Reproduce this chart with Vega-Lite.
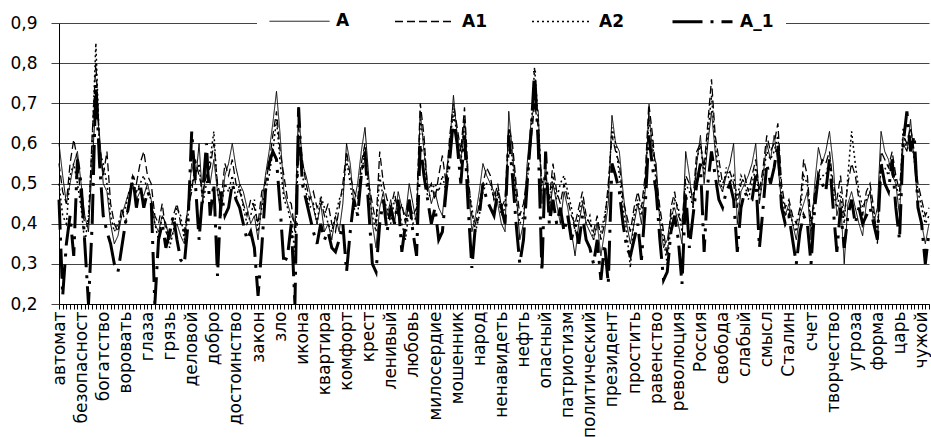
{"$schema":"https://vega.github.io/schema/vega-lite/v6.json","width":870,"height":281,"autosize":{"type":"none"},"padding":{"left":59,"top":23,"right":2,"bottom":133},"background":"white","config":{"view":{"stroke":null}},
"data":{"values":[
{"i":0,"A":0.60,"A1":0.55,"A2":0.50,"A_1":0.46},{"i":1,"A":0.52,"A1":0.48,"A2":0.42,"A_1":0.22},{"i":2,"A":0.45,"A1":0.45,"A2":0.40,"A_1":0.35},{"i":3,"A":0.50,"A1":0.55,"A2":0.52,"A_1":0.42},{"i":4,"A":0.55,"A1":0.61,"A2":0.55,"A_1":0.32},{"i":5,"A":0.58,"A1":0.56,"A2":0.50,"A_1":0.56},{"i":6,"A":0.50,"A1":0.45,"A2":0.44,"A_1":0.50},{"i":7,"A":0.42,"A1":0.40,"A2":0.35,"A_1":0.35},{"i":8,"A":0.38,"A1":0.40,"A2":0.42,"A_1":0.20},{"i":9,"A":0.55,"A1":0.62,"A2":0.60,"A_1":0.40},
{"i":10,"A":0.70,"A1":0.80,"A2":0.85,"A_1":0.75},{"i":11,"A":0.62,"A1":0.60,"A2":0.58,"A_1":0.55},{"i":12,"A":0.50,"A1":0.52,"A2":0.55,"A_1":0.42},{"i":13,"A":0.48,"A1":0.58,"A2":0.50,"A_1":0.38},{"i":14,"A":0.40,"A1":0.45,"A2":0.42,"A_1":0.35},{"i":15,"A":0.35,"A1":0.40,"A2":0.38,"A_1":0.30},{"i":16,"A":0.37,"A1":0.38,"A2":0.40,"A_1":0.28},{"i":17,"A":0.42,"A1":0.44,"A2":0.42,"A_1":0.34},{"i":18,"A":0.45,"A1":0.40,"A2":0.44,"A_1":0.40},{"i":19,"A":0.48,"A1":0.45,"A2":0.48,"A_1":0.45},
{"i":20,"A":0.50,"A1":0.52,"A2":0.50,"A_1":0.52},{"i":21,"A":0.46,"A1":0.50,"A2":0.48,"A_1":0.44},{"i":22,"A":0.48,"A1":0.55,"A2":0.50,"A_1":0.50},{"i":23,"A":0.47,"A1":0.58,"A2":0.52,"A_1":0.44},{"i":24,"A":0.50,"A1":0.52,"A2":0.48,"A_1":0.48},{"i":25,"A":0.46,"A1":0.50,"A2":0.46,"A_1":0.46},{"i":26,"A":0.40,"A1":0.42,"A2":0.40,"A_1":0.20},{"i":27,"A":0.38,"A1":0.40,"A2":0.36,"A_1":0.36},{"i":28,"A":0.42,"A1":0.45,"A2":0.42,"A_1":0.40},{"i":29,"A":0.40,"A1":0.38,"A2":0.40,"A_1":0.34},
{"i":30,"A":0.36,"A1":0.36,"A2":0.34,"A_1":0.38},{"i":31,"A":0.38,"A1":0.42,"A2":0.38,"A_1":0.42},{"i":32,"A":0.40,"A1":0.45,"A2":0.44,"A_1":0.36},{"i":33,"A":0.37,"A1":0.40,"A2":0.42,"A_1":0.31},{"i":34,"A":0.35,"A1":0.38,"A2":0.36,"A_1":0.30},{"i":35,"A":0.45,"A1":0.44,"A2":0.42,"A_1":0.40},{"i":36,"A":0.55,"A1":0.48,"A2":0.50,"A_1":0.63},{"i":37,"A":0.50,"A1":0.56,"A2":0.52,"A_1":0.50},{"i":38,"A":0.60,"A1":0.52,"A2":0.55,"A_1":0.36},{"i":39,"A":0.45,"A1":0.48,"A2":0.45,"A_1":0.48},
{"i":40,"A":0.55,"A1":0.52,"A2":0.50,"A_1":0.60},{"i":41,"A":0.50,"A1":0.54,"A2":0.56,"A_1":0.42},{"i":42,"A":0.56,"A1":0.60,"A2":0.63,"A_1":0.50},{"i":43,"A":0.48,"A1":0.50,"A2":0.48,"A_1":0.27},{"i":44,"A":0.42,"A1":0.46,"A2":0.44,"A_1":0.48},{"i":45,"A":0.52,"A1":0.55,"A2":0.50,"A_1":0.42},{"i":46,"A":0.55,"A1":0.52,"A2":0.48,"A_1":0.44},{"i":47,"A":0.60,"A1":0.56,"A2":0.52,"A_1":0.50},{"i":48,"A":0.54,"A1":0.50,"A2":0.46,"A_1":0.46},{"i":49,"A":0.50,"A1":0.48,"A2":0.50,"A_1":0.44},
{"i":50,"A":0.48,"A1":0.45,"A2":0.44,"A_1":0.40},{"i":51,"A":0.44,"A1":0.42,"A2":0.40,"A_1":0.36},{"i":52,"A":0.40,"A1":0.46,"A2":0.42,"A_1":0.38},{"i":53,"A":0.42,"A1":0.44,"A2":0.46,"A_1":0.34},{"i":54,"A":0.36,"A1":0.40,"A2":0.38,"A_1":0.22},{"i":55,"A":0.45,"A1":0.48,"A2":0.44,"A_1":0.34},{"i":56,"A":0.52,"A1":0.50,"A2":0.48,"A_1":0.48},{"i":57,"A":0.58,"A1":0.55,"A2":0.52,"A_1":0.55},{"i":58,"A":0.65,"A1":0.62,"A2":0.58,"A_1":0.58},{"i":59,"A":0.73,"A1":0.68,"A2":0.66,"A_1":0.56},
{"i":60,"A":0.62,"A1":0.58,"A2":0.55,"A_1":0.44},{"i":61,"A":0.48,"A1":0.52,"A2":0.46,"A_1":0.30},{"i":62,"A":0.45,"A1":0.46,"A2":0.44,"A_1":0.32},{"i":63,"A":0.42,"A1":0.45,"A2":0.40,"A_1":0.40},{"i":64,"A":0.40,"A1":0.38,"A2":0.33,"A_1":0.20},{"i":65,"A":0.69,"A1":0.64,"A2":0.60,"A_1":0.69},{"i":66,"A":0.55,"A1":0.56,"A2":0.52,"A_1":0.50},{"i":67,"A":0.52,"A1":0.50,"A2":0.48,"A_1":0.46},{"i":68,"A":0.48,"A1":0.46,"A2":0.44,"A_1":0.42},{"i":69,"A":0.44,"A1":0.48,"A2":0.45,"A_1":0.38},
{"i":70,"A":0.40,"A1":0.44,"A2":0.40,"A_1":0.35},{"i":71,"A":0.45,"A1":0.46,"A2":0.47,"A_1":0.40},{"i":72,"A":0.38,"A1":0.42,"A2":0.44,"A_1":0.36},{"i":73,"A":0.40,"A1":0.45,"A2":0.40,"A_1":0.38},{"i":74,"A":0.36,"A1":0.40,"A2":0.38,"A_1":0.34},{"i":75,"A":0.42,"A1":0.38,"A2":0.42,"A_1":0.33},{"i":76,"A":0.38,"A1":0.44,"A2":0.46,"A_1":0.36},{"i":77,"A":0.45,"A1":0.50,"A2":0.48,"A_1":0.40},{"i":78,"A":0.60,"A1":0.58,"A2":0.56,"A_1":0.28},{"i":79,"A":0.55,"A1":0.52,"A2":0.50,"A_1":0.38},
{"i":80,"A":0.45,"A1":0.48,"A2":0.44,"A_1":0.46},{"i":81,"A":0.50,"A1":0.46,"A2":0.42,"A_1":0.42},{"i":82,"A":0.58,"A1":0.55,"A2":0.52,"A_1":0.52},{"i":83,"A":0.64,"A1":0.60,"A2":0.58,"A_1":0.58},{"i":84,"A":0.52,"A1":0.50,"A2":0.48,"A_1":0.44},{"i":85,"A":0.40,"A1":0.45,"A2":0.42,"A_1":0.30},{"i":86,"A":0.34,"A1":0.40,"A2":0.38,"A_1":0.28},{"i":87,"A":0.44,"A1":0.58,"A2":0.52,"A_1":0.40},{"i":88,"A":0.48,"A1":0.50,"A2":0.46,"A_1":0.46},{"i":89,"A":0.42,"A1":0.46,"A2":0.44,"A_1":0.38},
{"i":90,"A":0.46,"A1":0.44,"A2":0.40,"A_1":0.44},{"i":91,"A":0.40,"A1":0.48,"A2":0.46,"A_1":0.40},{"i":92,"A":0.48,"A1":0.42,"A2":0.44,"A_1":0.46},{"i":93,"A":0.44,"A1":0.45,"A2":0.40,"A_1":0.33},{"i":94,"A":0.42,"A1":0.40,"A2":0.36,"A_1":0.40},{"i":95,"A":0.50,"A1":0.46,"A2":0.44,"A_1":0.46},{"i":96,"A":0.45,"A1":0.42,"A2":0.40,"A_1":0.38},{"i":97,"A":0.40,"A1":0.44,"A2":0.42,"A_1":0.32},{"i":98,"A":0.68,"A1":0.70,"A2":0.66,"A_1":0.60},{"i":99,"A":0.58,"A1":0.62,"A2":0.60,"A_1":0.52},
{"i":100,"A":0.50,"A1":0.48,"A2":0.46,"A_1":0.46},{"i":101,"A":0.45,"A1":0.50,"A2":0.48,"A_1":0.40},{"i":102,"A":0.48,"A1":0.46,"A2":0.50,"A_1":0.44},{"i":103,"A":0.44,"A1":0.52,"A2":0.48,"A_1":0.36},{"i":104,"A":0.42,"A1":0.57,"A2":0.52,"A_1":0.38},{"i":105,"A":0.52,"A1":0.50,"A2":0.48,"A_1":0.48},{"i":106,"A":0.60,"A1":0.62,"A2":0.60,"A_1":0.56},{"i":107,"A":0.72,"A1":0.70,"A2":0.68,"A_1":0.66},{"i":108,"A":0.62,"A1":0.64,"A2":0.62,"A_1":0.60},{"i":109,"A":0.55,"A1":0.58,"A2":0.55,"A_1":0.50},
{"i":110,"A":0.66,"A1":0.69,"A2":0.66,"A_1":0.62},{"i":111,"A":0.50,"A1":0.52,"A2":0.50,"A_1":0.44},{"i":112,"A":0.38,"A1":0.42,"A2":0.44,"A_1":0.29},{"i":113,"A":0.42,"A1":0.40,"A2":0.38,"A_1":0.40},{"i":114,"A":0.48,"A1":0.45,"A2":0.42,"A_1":0.42},{"i":115,"A":0.55,"A1":0.50,"A2":0.48,"A_1":0.50},{"i":116,"A":0.52,"A1":0.54,"A2":0.50,"A_1":0.46},{"i":117,"A":0.50,"A1":0.52,"A2":0.50,"A_1":0.44},{"i":118,"A":0.48,"A1":0.46,"A2":0.46,"A_1":0.42},{"i":119,"A":0.45,"A1":0.50,"A2":0.48,"A_1":0.48},
{"i":120,"A":0.40,"A1":0.44,"A2":0.42,"A_1":0.44},{"i":121,"A":0.38,"A1":0.46,"A2":0.44,"A_1":0.40},{"i":122,"A":0.68,"A1":0.64,"A2":0.62,"A_1":0.62},{"i":123,"A":0.58,"A1":0.60,"A2":0.56,"A_1":0.52},{"i":124,"A":0.48,"A1":0.50,"A2":0.46,"A_1":0.40},{"i":125,"A":0.36,"A1":0.42,"A2":0.40,"A_1":0.30},{"i":126,"A":0.40,"A1":0.45,"A2":0.42,"A_1":0.36},{"i":127,"A":0.55,"A1":0.52,"A2":0.50,"A_1":0.50},{"i":128,"A":0.65,"A1":0.60,"A2":0.62,"A_1":0.62},{"i":129,"A":0.70,"A1":0.70,"A2":0.79,"A_1":0.78},
{"i":130,"A":0.68,"A1":0.64,"A2":0.66,"A_1":0.60},{"i":131,"A":0.45,"A1":0.50,"A2":0.48,"A_1":0.28},{"i":132,"A":0.55,"A1":0.52,"A2":0.50,"A_1":0.58},{"i":133,"A":0.42,"A1":0.46,"A2":0.44,"A_1":0.40},{"i":134,"A":0.50,"A1":0.55,"A2":0.52,"A_1":0.46},{"i":135,"A":0.45,"A1":0.48,"A2":0.46,"A_1":0.40},{"i":136,"A":0.40,"A1":0.45,"A2":0.50,"A_1":0.44},{"i":137,"A":0.48,"A1":0.50,"A2":0.52,"A_1":0.38},{"i":138,"A":0.44,"A1":0.46,"A2":0.48,"A_1":0.42},{"i":139,"A":0.38,"A1":0.42,"A2":0.44,"A_1":0.36},
{"i":140,"A":0.32,"A1":0.40,"A2":0.38,"A_1":0.40},{"i":141,"A":0.40,"A1":0.44,"A2":0.42,"A_1":0.35},{"i":142,"A":0.45,"A1":0.48,"A2":0.46,"A_1":0.42},{"i":143,"A":0.40,"A1":0.42,"A2":0.40,"A_1":0.36},{"i":144,"A":0.38,"A1":0.40,"A2":0.42,"A_1":0.34},{"i":145,"A":0.36,"A1":0.38,"A2":0.36,"A_1":0.30},{"i":146,"A":0.40,"A1":0.42,"A2":0.40,"A_1":0.36},{"i":147,"A":0.32,"A1":0.36,"A2":0.38,"A_1":0.26},{"i":148,"A":0.38,"A1":0.40,"A2":0.42,"A_1":0.35},{"i":149,"A":0.45,"A1":0.50,"A2":0.48,"A_1":0.25},
{"i":150,"A":0.67,"A1":0.62,"A2":0.64,"A_1":0.55},{"i":151,"A":0.60,"A1":0.58,"A2":0.60,"A_1":0.52},{"i":152,"A":0.58,"A1":0.55,"A2":0.52,"A_1":0.48},{"i":153,"A":0.48,"A1":0.46,"A2":0.44,"A_1":0.40},{"i":154,"A":0.40,"A1":0.42,"A2":0.38,"A_1":0.34},{"i":155,"A":0.35,"A1":0.38,"A2":0.29,"A_1":0.32},{"i":156,"A":0.40,"A1":0.44,"A2":0.42,"A_1":0.36},{"i":157,"A":0.45,"A1":0.48,"A2":0.46,"A_1":0.40},{"i":158,"A":0.40,"A1":0.44,"A2":0.42,"A_1":0.31},{"i":159,"A":0.48,"A1":0.52,"A2":0.50,"A_1":0.44},
{"i":160,"A":0.68,"A1":0.70,"A2":0.66,"A_1":0.62},{"i":161,"A":0.58,"A1":0.62,"A2":0.60,"A_1":0.54},{"i":162,"A":0.55,"A1":0.52,"A2":0.50,"A_1":0.48},{"i":163,"A":0.40,"A1":0.44,"A2":0.42,"A_1":0.36},{"i":164,"A":0.34,"A1":0.38,"A2":0.36,"A_1":0.26},{"i":165,"A":0.36,"A1":0.32,"A2":0.30,"A_1":0.28},{"i":166,"A":0.42,"A1":0.44,"A2":0.40,"A_1":0.38},{"i":167,"A":0.44,"A1":0.48,"A2":0.46,"A_1":0.42},{"i":168,"A":0.40,"A1":0.42,"A2":0.44,"A_1":0.36},{"i":169,"A":0.35,"A1":0.40,"A2":0.38,"A_1":0.25},
{"i":170,"A":0.58,"A1":0.52,"A2":0.50,"A_1":0.48},{"i":171,"A":0.52,"A1":0.50,"A2":0.48,"A_1":0.34},{"i":172,"A":0.44,"A1":0.46,"A2":0.44,"A_1":0.42},{"i":173,"A":0.55,"A1":0.58,"A2":0.56,"A_1":0.50},{"i":174,"A":0.62,"A1":0.60,"A2":0.60,"A_1":0.55},{"i":175,"A":0.50,"A1":0.54,"A2":0.52,"A_1":0.33},{"i":176,"A":0.60,"A1":0.65,"A2":0.62,"A_1":0.50},{"i":177,"A":0.68,"A1":0.76,"A2":0.72,"A_1":0.58},{"i":178,"A":0.58,"A1":0.62,"A2":0.60,"A_1":0.52},{"i":179,"A":0.50,"A1":0.56,"A2":0.52,"A_1":0.46},
{"i":180,"A":0.48,"A1":0.50,"A2":0.48,"A_1":0.44},{"i":181,"A":0.52,"A1":0.52,"A2":0.54,"A_1":0.48},{"i":182,"A":0.55,"A1":0.53,"A2":0.50,"A_1":0.50},{"i":183,"A":0.60,"A1":0.50,"A2":0.52,"A_1":0.46},{"i":184,"A":0.40,"A1":0.44,"A2":0.46,"A_1":0.33},{"i":185,"A":0.48,"A1":0.50,"A2":0.52,"A_1":0.44},{"i":186,"A":0.50,"A1":0.52,"A2":0.50,"A_1":0.48},{"i":187,"A":0.52,"A1":0.48,"A2":0.46,"A_1":0.46},{"i":188,"A":0.55,"A1":0.52,"A2":0.50,"A_1":0.46},{"i":189,"A":0.60,"A1":0.56,"A2":0.54,"A_1":0.52},
{"i":190,"A":0.45,"A1":0.48,"A2":0.46,"A_1":0.34},{"i":191,"A":0.52,"A1":0.54,"A2":0.52,"A_1":0.44},{"i":192,"A":0.60,"A1":0.62,"A2":0.58,"A_1":0.55},{"i":193,"A":0.56,"A1":0.58,"A2":0.56,"A_1":0.50},{"i":194,"A":0.62,"A1":0.60,"A2":0.58,"A_1":0.54},{"i":195,"A":0.55,"A1":0.65,"A2":0.62,"A_1":0.60},{"i":196,"A":0.45,"A1":0.50,"A2":0.48,"A_1":0.44},{"i":197,"A":0.42,"A1":0.44,"A2":0.42,"A_1":0.40},{"i":198,"A":0.45,"A1":0.46,"A2":0.44,"A_1":0.42},{"i":199,"A":0.40,"A1":0.42,"A2":0.40,"A_1":0.36},
{"i":200,"A":0.36,"A1":0.40,"A2":0.38,"A_1":0.30},{"i":201,"A":0.42,"A1":0.44,"A2":0.42,"A_1":0.38},{"i":202,"A":0.45,"A1":0.56,"A2":0.52,"A_1":0.42},{"i":203,"A":0.48,"A1":0.52,"A2":0.50,"A_1":0.40},{"i":204,"A":0.36,"A1":0.40,"A2":0.38,"A_1":0.30},{"i":205,"A":0.50,"A1":0.48,"A2":0.46,"A_1":0.44},{"i":206,"A":0.59,"A1":0.52,"A2":0.50,"A_1":0.52},{"i":207,"A":0.55,"A1":0.56,"A2":0.52,"A_1":0.50},{"i":208,"A":0.58,"A1":0.55,"A2":0.52,"A_1":0.48},{"i":209,"A":0.63,"A1":0.58,"A2":0.56,"A_1":0.56},
{"i":210,"A":0.55,"A1":0.50,"A2":0.48,"A_1":0.44},{"i":211,"A":0.42,"A1":0.46,"A2":0.44,"A_1":0.33},{"i":212,"A":0.46,"A1":0.52,"A2":0.48,"A_1":0.44},{"i":213,"A":0.30,"A1":0.42,"A2":0.40,"A_1":0.34},{"i":214,"A":0.45,"A1":0.50,"A2":0.52,"A_1":0.42},{"i":215,"A":0.48,"A1":0.55,"A2":0.63,"A_1":0.46},{"i":216,"A":0.44,"A1":0.52,"A2":0.55,"A_1":0.40},{"i":217,"A":0.40,"A1":0.46,"A2":0.48,"A_1":0.44},{"i":218,"A":0.37,"A1":0.42,"A2":0.44,"A_1":0.40},{"i":219,"A":0.45,"A1":0.48,"A2":0.46,"A_1":0.42},
{"i":220,"A":0.48,"A1":0.50,"A2":0.48,"A_1":0.44},{"i":221,"A":0.40,"A1":0.44,"A2":0.42,"A_1":0.40},{"i":222,"A":0.44,"A1":0.35,"A2":0.38,"A_1":0.36},{"i":223,"A":0.63,"A1":0.58,"A2":0.55,"A_1":0.55},{"i":224,"A":0.58,"A1":0.56,"A2":0.54,"A_1":0.50},{"i":225,"A":0.56,"A1":0.54,"A2":0.52,"A_1":0.48},{"i":226,"A":0.52,"A1":0.58,"A2":0.56,"A_1":0.56},{"i":227,"A":0.50,"A1":0.52,"A2":0.50,"A_1":0.44},{"i":228,"A":0.42,"A1":0.48,"A2":0.46,"A_1":0.36},{"i":229,"A":0.60,"A1":0.62,"A2":0.64,"A_1":0.60},
{"i":230,"A":0.58,"A1":0.60,"A2":0.58,"A_1":0.68},{"i":231,"A":0.66,"A1":0.64,"A2":0.62,"A_1":0.58},{"i":232,"A":0.55,"A1":0.58,"A2":0.56,"A_1":0.62},{"i":233,"A":0.45,"A1":0.50,"A2":0.48,"A_1":0.44},{"i":234,"A":0.40,"A1":0.46,"A2":0.44,"A_1":0.40},{"i":235,"A":0.35,"A1":0.42,"A2":0.40,"A_1":0.30},{"i":236,"A":0.40,"A1":0.44,"A2":0.42,"A_1":0.38}
]},
"transform":[{"fold":["A","A1","A2","A_1"],"as":["series","value"]}],
"mark":{"type":"line","color":"black","strokeCap":"butt","clip":false},
"encoding":{
"x":{"field":"i","type":"ordinal","scale":{"type":"point","padding":0},"axis":{"title":null,"labelAngle":-90,"labelOverlap":false,"labelBound":false,"labelFont":"DejaVu Sans","labelFontSize":17,"labelColor":"black","labelPadding":2,"tickSize":5,"tickColor":"black","tickWidth":1,"domainColor":"black","domainWidth":1,"grid":false,
"labelExpr":"datum.value % 6 == 0 ? ['автомат','безопасност','богатство','воровать','глаза','грязь','деловой','добро','достоинство','закон','зло','икона','квартира','комфорт','крест','ленивый','любовь','милосердие','мошенник','народ','ненавидеть','нефть','опасный','патриотизм','политический','президент','простить','равенство','революция','Россия','свобода','слабый','смысл','Сталин','счет','творчество','угроза','форма','царь','чужой'][datum.value / 6] : ''"}},
"y":{"field":"value","type":"quantitative","scale":{"domain":[0.2,0.9],"zero":false,"nice":false},"axis":{"title":null,"values":[0.2,0.3,0.4,0.5,0.6,0.7,0.8,0.9],"labelExpr":"replace(format(datum.value,'.1f'),'.',',')","labelFont":"DejaVu Sans","labelFontSize":17,"labelColor":"black","labelPadding":14,"tickSize":8,"tickColor":"#444444","gridColor":"#444444","gridWidth":1,"domainColor":"black","grid":true}},
"strokeDash":{"field":"series","type":"nominal","scale":{"domain":["A","A1","A2","A_1"],"range":[[1,0],[8,4],[2,3],[30,8,3,8]]},"legend":{"orient":"none","legendX":198,"legendY":-45,"direction":"horizontal","title":null,"symbolType":"stroke","symbolSize":3600,"symbolStrokeColor":"black","labelFont":"DejaVu Sans","labelFontSize":17,"labelFontWeight":"bold","labelColor":"black","labelOffset":6,"columnPadding":42,"fillColor":"white","padding":12}},
"strokeWidth":{"field":"series","type":"ordinal","scale":{"type":"ordinal","domain":["A","A1","A2","A_1"],"range":[1,1.3,1.5,3]},"legend":{"orient":"none","legendX":198,"legendY":-45,"direction":"horizontal","title":null,"symbolType":"stroke","symbolSize":3600,"symbolStrokeColor":"black","labelFont":"DejaVu Sans","labelFontSize":17,"labelFontWeight":"bold","labelColor":"black","labelOffset":6,"columnPadding":42,"fillColor":"white","padding":12}}
}}
